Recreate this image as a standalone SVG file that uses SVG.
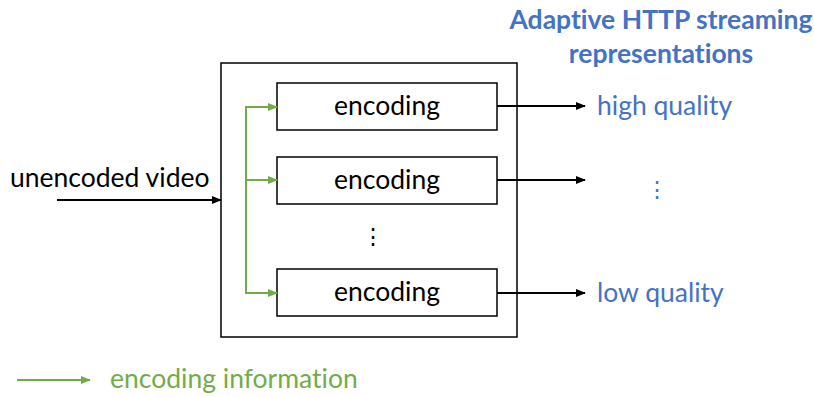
<svg xmlns="http://www.w3.org/2000/svg" width="814" height="397" viewBox="0 0 814 397">
  <style>
    text { font-family: Lato, "Noto Sans", "Liberation Sans", sans-serif; font-size: 26.5px; font-variant-ligatures: none; }
    .box { fill: #fff; stroke: #000; stroke-width: 1.5; }
    .blk { stroke: #000; stroke-width: 2; fill: none; }
    .grn { stroke: #70AD47; stroke-width: 2; fill: none; }
    .blue { fill: #4472C4; }
    .green { fill: #70AD47; }
    .title { font-weight: bold; }
    .dots { font-size: 22px; }
  </style>
  <defs>
    <marker id="ah" markerWidth="10" markerHeight="8" refX="9" refY="4" orient="auto" markerUnits="userSpaceOnUse">
      <path d="M0,0 L10,4 L0,8 z" fill="#000"/>
    </marker>
    <marker id="ahg" markerWidth="10" markerHeight="8" refX="9" refY="4" orient="auto" markerUnits="userSpaceOnUse">
      <path d="M0,0 L10,4 L0,8 z" fill="#70AD47"/>
    </marker>
  </defs>

  <!-- encoder container -->
  <g id="encoder">
    <rect class="box" x="221" y="63" width="296" height="274"/>
  </g>

  <g id="enc1">
    <rect class="box" x="277" y="83" width="220" height="47"/>
    <text x="387" y="115" text-anchor="middle">encoding</text>
  </g>
  <g id="enc2">
    <rect class="box" x="277" y="157" width="220" height="47"/>
    <text x="387" y="189" text-anchor="middle">encoding</text>
  </g>
  <g id="enc-dots">
    <text class="dots" x="373" y="244" text-anchor="middle">⋮</text>
  </g>
  <g id="enc3">
    <rect class="box" x="277" y="269" width="220" height="47"/>
    <text x="387" y="301" text-anchor="middle">encoding</text>
  </g>

  <g id="input-label">
    <text x="10" y="187">unencoded video</text>
  </g>

  <g id="outputs">
    <text class="blue title" x="661" y="29" text-anchor="middle">Adaptive HTTP streaming</text>
    <text class="blue title" x="661" y="63" text-anchor="middle">representations</text>
    <text class="blue" x="597" y="115">high quality</text>
    <text class="blue dots" x="657" y="197" text-anchor="middle">⋮</text>
    <text class="blue" x="597" y="302">low quality</text>
  </g>

  <g id="legend">
    <line class="grn" x1="17" y1="380" x2="90" y2="380" marker-end="url(#ahg)"/>
    <text class="green" x="110" y="388">encoding information</text>
  </g>

  <!-- connectors -->
  <g id="connectors">
    <line class="blk" x1="57" y1="200" x2="221" y2="200" marker-end="url(#ah)"/>
    <path class="grn" d="M277,107 H246 V293 H277" marker-end="url(#ahg)"/>
    <line class="grn" x1="246" y1="107" x2="277" y2="107" marker-end="url(#ahg)"/>
    <line class="grn" x1="246" y1="180" x2="277" y2="180" marker-end="url(#ahg)"/>
    <line class="blk" x1="497" y1="106" x2="585" y2="106" marker-end="url(#ah)"/>
    <line class="blk" x1="497" y1="180" x2="585" y2="180" marker-end="url(#ah)"/>
    <line class="blk" x1="497" y1="293" x2="585" y2="293" marker-end="url(#ah)"/>
  </g>
</svg>
